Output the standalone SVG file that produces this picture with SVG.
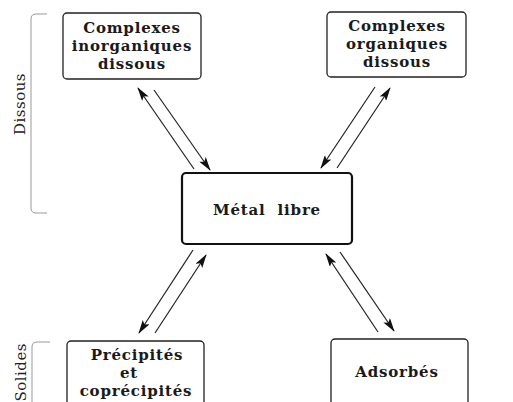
<svg xmlns="http://www.w3.org/2000/svg" width="513" height="402" viewBox="0 0 513 402">
<style>
.box{fill:#fff;stroke:#222;stroke-width:1.3}
.main{fill:#fff;stroke:#111;stroke-width:2.2}
.t{font-family:"DejaVu Serif",serif;font-weight:bold;font-size:15px;letter-spacing:0.8px;fill:#1a1a1a;text-anchor:middle;white-space:pre}
.lab{font-family:"DejaVu Serif",serif;font-size:15px;letter-spacing:0.5px;fill:#222}
.br{fill:none;stroke:#999;stroke-width:1}
.ar{stroke:#222;stroke-width:1.2;fill:none;marker-end:url(#ah)}
</style>
<defs>
<marker id="ah" viewBox="0 0 14 8" refX="13" refY="4" markerWidth="14" markerHeight="8" markerUnits="userSpaceOnUse" orient="auto">
<path d="M0,0 L14,4 L0,8 L3,4 Z" fill="#111"/>
</marker>
</defs>
<rect width="513" height="402" fill="#fff"/>
<g id="bracket-dissous">
<path class="br" d="M47,14 H36 Q31,14 31,19 V208 Q31,213 36,213 H47"/>
<text class="lab" text-anchor="middle" transform="translate(25,104) rotate(-90)">Dissous</text>
</g>
<g id="bracket-solides">
<path class="br" d="M50,342 H37 Q32,342 32,347 V410"/>
<text class="lab" text-anchor="end" transform="translate(26,343) rotate(-90)">Solides</text>
</g>
<g id="inorg">
<rect class="box" x="63" y="13" width="138" height="66" rx="4"/>
<text class="t" x="132" y="33">Complexes</text>
<text class="t" x="132" y="51">inorganiques</text>
<text class="t" x="132" y="69">dissous</text>
</g>
<g id="org">
<rect class="box" x="327" y="12" width="139" height="65" rx="4"/>
<text class="t" x="397" y="31">Complexes</text>
<text class="t" x="397" y="49">organiques</text>
<text class="t" x="397" y="67">dissous</text>
</g>
<g id="metal">
<rect class="main" x="182" y="173" width="170" height="71" rx="4"/>
<text class="t" x="267" y="215">Métal  libre</text>
</g>
<g id="precip">
<rect class="box" x="67" y="341" width="137" height="80" rx="4"/>
<text class="t" x="137" y="360">Précipités</text>
<text class="t" x="129" y="378">et</text>
<text class="t" x="136" y="396">coprécipités</text>
</g>
<g id="adsorb">
<rect class="box" x="331" y="339" width="137" height="80" rx="4"/>
<text class="t" x="397" y="377">Adsorbés</text>
</g>
<g id="connectors">
<line class="ar" x1="194" y1="169" x2="138" y2="88"/>
<line class="ar" x1="154" y1="90" x2="210" y2="170"/>
<line class="ar" x1="375" y1="87" x2="321" y2="168"/>
<line class="ar" x1="337" y1="168" x2="390" y2="88"/>
<line class="ar" x1="193" y1="250" x2="139" y2="333"/>
<line class="ar" x1="155" y1="333" x2="206" y2="255"/>
<line class="ar" x1="378" y1="332" x2="326" y2="254"/>
<line class="ar" x1="340" y1="252" x2="394" y2="331"/>
</g>
</svg>
